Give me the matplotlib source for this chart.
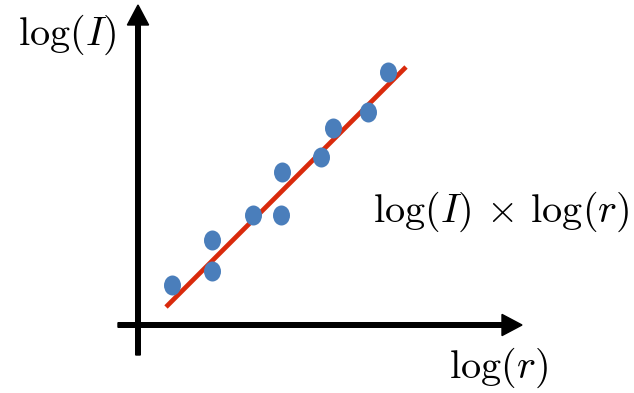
import matplotlib
matplotlib.use("Agg")
import matplotlib.pyplot as plt
import numpy as np
from matplotlib.path import Path
from matplotlib.transforms import Affine2D

plt.rcParams['mathtext.fontset'] = 'cm'

# data (log r, log I)
log_r = [0.85, 1.85, 1.85, 2.875, 3.575, 3.6, 4.575, 4.875, 5.75, 6.25]
log_I = [1.0, 1.35, 2.125, 2.75, 2.75, 3.825, 4.2, 4.925, 5.325, 6.325]
fit_r = [0.7, 6.7]
fit_I = [0.45, 6.45]

y_label = r'$\log(I)$'
x_label = r'$\log(r)$'
title_label = r'$\log(I)\,\times\,\log(r)$'

fig = plt.figure(figsize=(6.34, 3.93), dpi=100)
ax = fig.add_axes([0, 0, 1, 1])
ax.set_xlim(-3.45, 12.4)
ax.set_ylim(-1.7, 8.125)
ax.axis('off')

lw = 0.115
# y axis
ax.arrow(0, -0.75, 0, 8.75, width=lw, head_width=0.53, head_length=0.5,
         length_includes_head=True, color='black', zorder=2)
# x axis
ax.arrow(-0.5, 0, 10.1, 0, width=lw, head_width=0.53, head_length=0.5,
         length_includes_head=True, color='black', zorder=2)

ax.plot(fit_r, fit_I, color='#d92a0c', lw=3.4, solid_capstyle='butt', zorder=3)

circ = Path.unit_circle()
ell = Path(Affine2D().scale(0.85, 1.0).transform(circ.vertices), circ.codes)
ax.plot(log_r, log_I, linestyle='none', marker=ell, ms=14.4,
        color='#4a7ebb', mec='none', zorder=4)

ax.text(-3.0, 7.0, y_label, fontsize=29, va='baseline', ha='left')
ax.text(7.775, -1.325, x_label, fontsize=29, va='baseline', ha='left')
ax.text(5.875, 2.575, title_label, fontsize=29, va='baseline', ha='left')

fig.savefig('out.png', dpi=100)
